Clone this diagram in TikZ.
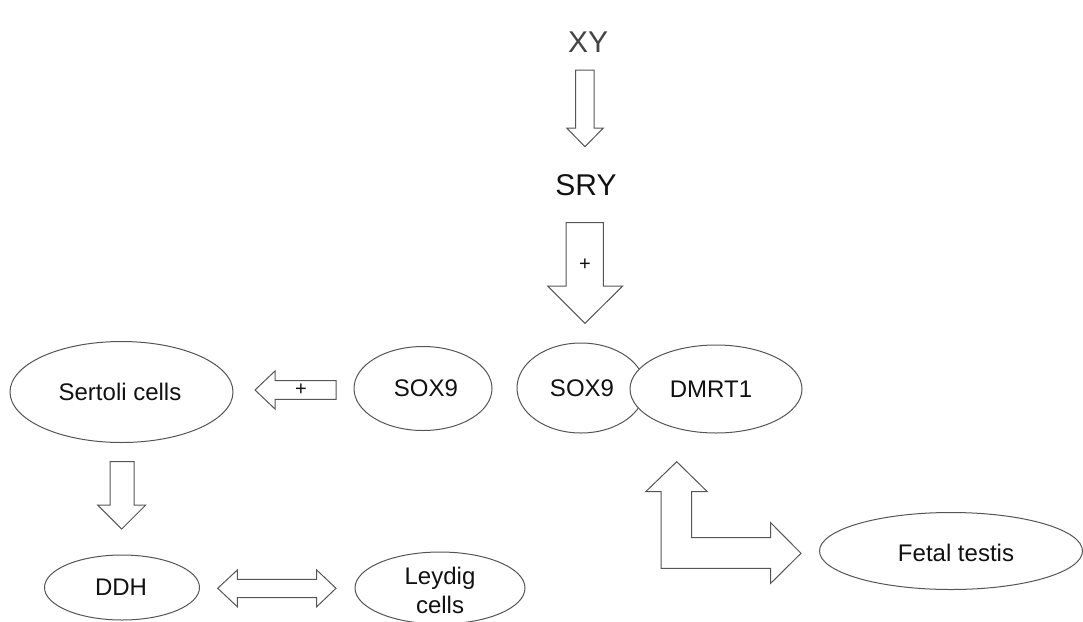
\documentclass[tikz,border=0pt]{standalone}
\usepackage{fontspec}
\setmainfont{Liberation Sans}
\usetikzlibrary{shapes.geometric}
\definecolor{linegray}{HTML}{555555}
\definecolor{xygray}{HTML}{444444}
\definecolor{txt}{HTML}{111111}
\tikzset{
  oval/.style={ellipse, draw=linegray, line width=1pt, fill=white, inner sep=0pt},
  lbl/.style={font=\fontsize{24}{29}\selectfont, text=txt, align=center, inner sep=0pt},
  big/.style={font=\fontsize{30}{34}\selectfont, inner sep=0pt},
  blockarrow/.style={draw=linegray, line width=1pt, fill=white, line join=miter},
  plus/.style={font=\fontsize{20}{22}\selectfont, text=txt, inner sep=0pt}
}
\begin{document}
\begin{tikzpicture}[x=1pt,y=-1pt]
\useasboundingbox (0,0) rectangle (1083,621);

% top texts
\node[big, text=xygray] (xy) at (588,42) {XY};
\node[big, text=txt] (sry) at (586,185) {SRY};

% arrow XY -> SRY
\draw[blockarrow] (575.7,70) -- (594,70) -- (594,128) -- (603.3,128) -- (585,146.7) -- (566.7,128) -- (575.7,128) -- cycle;

% arrow SRY -> SOX9/DMRT1
\draw[blockarrow] (566,222.7) -- (603.3,222.7) -- (603.3,286) -- (622.7,286) -- (585,323.3) -- (547.7,286) -- (566,286) -- cycle;
\node[plus] (p1) at (585,265) {+};

% ellipses
\node[oval, minimum width=223pt, minimum height=101pt] (sertoli) at (121.5,392) {};
\node[lbl] (sertolit) at (120,392) {Sertoli cells};

\node[oval, minimum width=138pt, minimum height=84pt] (soxa) at (423,388.5) {};
\node[lbl] (soxat) at (426,388.5) {SOX9};

\node[oval, minimum width=128pt, minimum height=90pt] (soxb) at (581,388) {};
\node[lbl] (soxbt) at (582,388) {SOX9};
\node[oval, minimum width=172pt, minimum height=88pt] (dmrt) at (716,389) {};
\node[lbl] (dmrtt) at (711,389) {DMRT1};

\node[oval, minimum width=155pt, minimum height=65pt] (ddh) at (122,587.5) {};
\node[lbl] (ddht) at (121,587.5) {DDH};

\node[oval, minimum width=170pt, minimum height=72pt] (leydig) at (440,588) {};
\node[lbl] (leydigt) at (440,590) {Leydig\\cells};

\node[oval, minimum width=263pt, minimum height=77pt] (fetal) at (951,551) {};
\node[lbl] (fetalt) at (956,553) {Fetal testis};

% arrow SOX9 -> Sertoli
\draw[blockarrow] (336,380.7) -- (275,380.7) -- (275,371) -- (255,390) -- (275,409) -- (275,399.3) -- (336,399.3) -- cycle;
\node[plus] (p2) at (301,389.5) {+};

% arrow Sertoli -> DDH
\draw[blockarrow] (110,461.7) -- (134,461.7) -- (134,505) -- (145.7,505) -- (121.7,529) -- (97.7,505) -- (110,505) -- cycle;

% double arrow DDH <-> Leydig
\draw[blockarrow] (217.7,588.3) -- (237.3,570) -- (237.3,579.3) -- (316.7,579.3) -- (316.7,570) -- (336,588.3) -- (316.7,606.7) -- (316.7,597.7) -- (237.3,597.7) -- (237.3,606.7) -- cycle;

% L-shaped arrow
\draw[blockarrow] (676.7,461.7) -- (707.3,491.7) -- (691.7,491.7) -- (691.7,537.7) -- (770.7,537.7) -- (770.7,522.7) -- (801,553.3) -- (770.7,583.3) -- (770.7,568.3) -- (661,568.3) -- (661,491.7) -- (645.7,491.7) -- cycle;
\end{tikzpicture}
\end{document}
